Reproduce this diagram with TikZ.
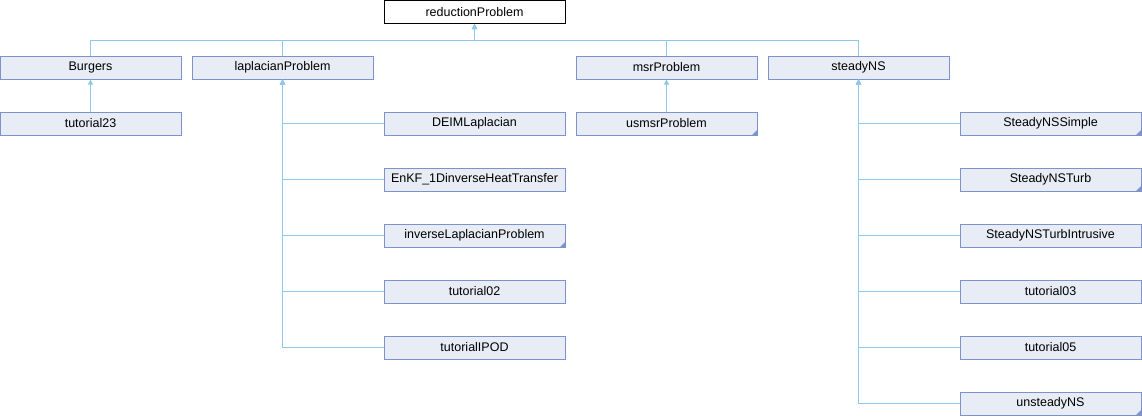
\documentclass[tikz,border=0pt]{standalone}
\usepackage{fontspec}
\setmainfont{Liberation Sans}
\usetikzlibrary{arrows.meta}
\definecolor{boxfill}{HTML}{E8ECF5}
\definecolor{boxline}{HTML}{7B93CA}
\definecolor{edgeblue}{HTML}{8FC8E6}
\tikzset{
  classbox/.style={draw=boxline,fill=boxfill,line width=1pt,minimum width=181pt,minimum height=23pt,inner sep=0pt,font=\fontsize{12.5}{14}\selectfont},
  rootbox/.style={classbox,draw=black,fill=white},
  truncated/.style={path picture={\fill[boxline] (path picture bounding box.south east) -- ++(-5pt,0pt) -- ++(5pt,5pt) -- cycle;}},
  edge/.style={draw=edgeblue,line width=1pt,-{Triangle[width=5pt,length=5pt]}}
}
\begin{document}
\begin{tikzpicture}[x=1pt,y=-1pt]
    \useasboundingbox (0,0) rectangle (1142,416);
    % root and first level
    \node[rootbox] (redProb) at (474.5,12) {reductionProblem};
    \node[classbox] (burgers) at (90.5,67.5) {Burgers};
    \node[classbox] (lapProb) at (282.5,67.5) {laplacianProblem};
    \node[classbox] (msrProb) at (666.5,67.5) {msrProblem};
    \node[classbox] (steadyNS) at (858.5,67.5) {steadyNS};
    % second level
    \node[classbox] (tut23) at (90.5,123.5) {tutorial23};
    \node[classbox,truncated] (usmsr) at (666.5,123.5) {usmsrProblem};
    \node[classbox] (deimLap) at (474.5,123.5) {DEIMLaplacian};
    \node[classbox] (enkf) at (474.5,179.5) {EnKF\_1DinverseHeatTransfer};
    \node[classbox,truncated] (invLap) at (474.5,235.5) {inverseLaplacianProblem};
    \node[classbox] (tut02) at (474.5,291.5) {tutorial02};
    \node[classbox] (tutIPOD) at (474.5,347.5) {tutorialIPOD};
    \node[classbox,truncated] (nsSimple) at (1050.5,123.5) {SteadyNSSimple};
    \node[classbox,truncated] (nsTurb) at (1050.5,179.5) {SteadyNSTurb};
    \node[classbox] (nsTurbInt) at (1050.5,235.5) {SteadyNSTurbIntrusive};
    \node[classbox] (tut03) at (1050.5,291.5) {tutorial03};
    \node[classbox] (tut05) at (1050.5,347.5) {tutorial05};
    \node[classbox,truncated] (unsteadyNS) at (1050.5,403.5) {unsteadyNS};
    % inheritance edges
    \coordinate (redBus) at (474.5,40);
    \foreach \child in {burgers,lapProb,msrProb,steadyNS}
      \draw[edge] (\child.north) |- (redBus) -- (redProb.south);
    \draw[edge] (tut23.north) -- (burgers.south);
    \draw[edge] (usmsr.north) -- (msrProb.south);
    \foreach \child in {deimLap,enkf,invLap,tut02,tutIPOD}
      \draw[edge] (\child.west) -| (lapProb.south);
    \foreach \child in {nsSimple,nsTurb,nsTurbInt,tut03,tut05,unsteadyNS}
      \draw[edge] (\child.west) -| (steadyNS.south);
  \end{tikzpicture}
\end{document}
